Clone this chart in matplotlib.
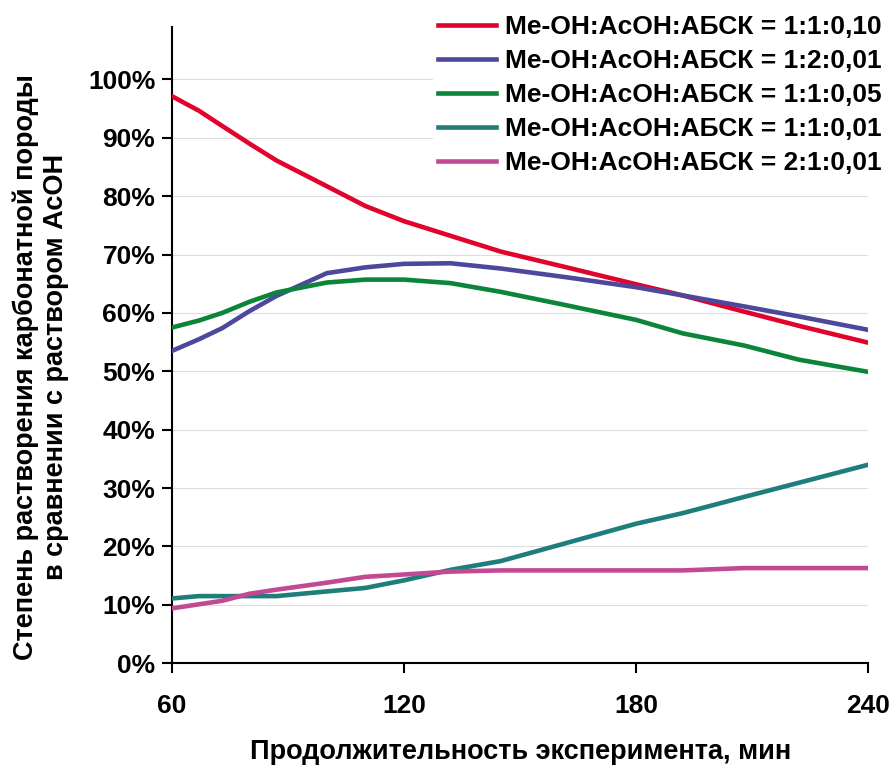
import matplotlib
matplotlib.use("Agg")
import matplotlib.pyplot as plt
import numpy as np
from matplotlib.ticker import PercentFormatter

plt.rcParams['font.family'] = ['Liberation Sans', 'DejaVu Sans']
plt.rcParams['font.weight'] = 'bold'
plt.rcParams['axes.labelweight'] = 'bold'

# time of experiment, min
time_min = [60, 67, 73, 80, 87, 100, 110, 120, 132, 145, 162, 180, 192, 208, 222, 240]

# dissolution degree relative to AcOH solution, %
s_1_1_010 = [97.1, 94.6, 92.0, 89.0, 86.1, 81.7, 78.3, 75.7, 73.2, 70.5, 67.8, 64.9, 63.0, 60.2, 57.8, 54.9]
s_1_2_001 = [53.5, 55.5, 57.4, 60.3, 62.9, 66.8, 67.8, 68.4, 68.5, 67.6, 66.1, 64.4, 63.0, 61.1, 59.4, 57.1]
s_1_1_005 = [57.5, 58.7, 60.0, 61.9, 63.5, 65.2, 65.7, 65.7, 65.1, 63.6, 61.3, 58.8, 56.5, 54.4, 52.0, 49.9]
s_1_1_001 = [11.1, 11.5, 11.5, 11.5, 11.5, 12.3, 12.9, 14.2, 16.0, 17.5, 20.6, 23.9, 25.7, 28.5, 30.9, 34.0]
s_2_1_001 = [9.4, 10.1, 10.7, 11.9, 12.6, 13.8, 14.8, 15.2, 15.7, 15.9, 15.9, 15.9, 15.9, 16.3, 16.3, 16.3]

labels = ['Me-OH:AcOH:АБСК = 1:1:0,10',
          'Me-OH:AcOH:АБСК = 1:2:0,01',
          'Me-OH:AcOH:АБСК = 1:1:0,05',
          'Me-OH:AcOH:АБСК = 1:1:0,01',
          'Me-OH:AcOH:АБСК = 2:1:0,01']
colors = ['#E2032C', '#4D489B', '#0B853A', '#1E7E7C', '#C24A94']
series = [s_1_1_010, s_1_2_001, s_1_1_005, s_1_1_001, s_2_1_001]

fig = plt.figure(figsize=(8.96, 7.65), dpi=100)
ax = fig.add_axes([0.192, 0.133, 0.777, 0.832])

for vals, lab, col in zip(series, labels, colors):
    ax.plot(time_min, np.array(vals) / 100, color=col, lw=3.3, label=lab,
            solid_joinstyle='round', zorder=3)

ax.set_xlim(60, 240)
ax.set_ylim(0, 1.09)
ax.set_xticks([60, 120, 180, 240])
ax.set_yticks(np.arange(0, 1.01, 0.1))
ax.yaxis.set_major_formatter(PercentFormatter(1.0, decimals=0))
ax.tick_params(axis='both', labelsize=19, length=7, width=1.5, pad=5)
ax.tick_params(axis='x', pad=15)
ax.grid(axis='y', color='#dedede', lw=0.8, zorder=0)

for side in ['top', 'right']:
    ax.spines[side].set_visible(False)
for side in ['left', 'bottom']:
    ax.spines[side].set_linewidth(1.5)

ax.set_xlabel('Продолжительность эксперимента, мин', fontsize=19.5,
              fontweight='bold', labelpad=15)
fig.text(0.045, 0.52, 'Степень растворения карбонатной породы\nв сравнении с раствором АсОН',
         rotation=90, ha='center', va='center', fontsize=19.5, fontweight='bold',
         multialignment='center', linespacing=1.2)

leg = ax.legend(loc='upper right', bbox_to_anchor=(0.99, 0.987),
                bbox_transform=fig.transFigure, prop={'size': 19, 'weight': 'bold'},
                frameon=True, fancybox=False, edgecolor='none', facecolor='white',
                framealpha=1, handlelength=2.2, handletextpad=0.35, labelspacing=0.38,
                borderpad=0.2, borderaxespad=0)
leg.set_zorder(5)

fig.savefig('out.png', dpi=100)
